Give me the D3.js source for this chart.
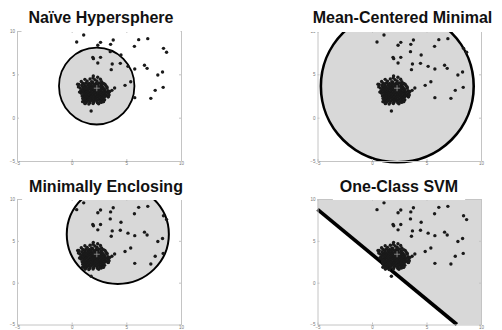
<!DOCTYPE html>
<html>
<head>
<meta charset="utf-8">
<script src="https://cdn.jsdelivr.net/npm/d3@7"></script>
<style>
  body { margin: 0; background: #fff; }
  svg { display: block; }
  .tick text { font-family: "Liberation Sans", Arial, sans-serif; }
  .title { font-family: "Liberation Sans", Arial, sans-serif; font-weight: bold; font-size: 16px; }
</style>
</head>
<body>
<div id="chart"></div>
<script>
// Panel titles
const titles = ['Naïve Hypersphere', 'Mean-Centered Minimal', 'Minimally Enclosing', 'One-Class SVM'];
const tickValues = [-5, 0, 5, 10];
const axisDomain = [-5, 10];

// Scattered points away from the main cluster
const outliers = [
  [0.46, 8.73], [1.10, 9.54], [2.39, 8.35], [2.64, 8.69], [3.56, 8.46], [3.80, 8.96],
  [3.53, 7.62], [1.93, 6.96], [1.99, 6.81], [2.64, 6.96], [2.39, 6.31], [3.71, 6.19],
  [3.62, 5.54], [4.51, 7.23], [4.45, 6.27], [5.15, 5.92], [5.74, 8.23], [6.13, 9.00],
  [6.96, 9.12], [5.77, 5.62], [6.66, 6.04], [6.90, 5.69], [8.40, 8.00], [8.68, 7.54],
  [8.31, 5.27], [7.88, 4.92], [4.88, 3.73], [5.40, 4.15], [3.93, 3.42], [3.68, 3.15],
  [5.77, 2.31], [7.24, 2.23], [7.64, 3.15], [8.37, 3.50], [1.78, 0.77]
];

const clusterPoints = [
  [1.21, 4.42], [1.68, 4.47], [2.12, 4.38], [2.63, 4.44], [1.95, 4.58],
  [0.88, 4.18], [1.42, 4.22], [1.83, 4.16], [2.31, 4.24], [2.74, 4.15],
  [1.02, 3.98], [1.33, 4.03], [1.61, 3.96], [1.92, 4.05], [2.24, 3.97], [2.52, 4.02], [2.91, 3.95],
  [0.66, 3.84], [1.16, 3.88], [1.47, 3.81], [1.77, 3.87], [2.06, 3.83], [2.37, 3.89], [2.68, 3.82], [3.04, 3.86],
  [0.92, 3.71], [1.22, 3.66], [1.51, 3.73], [1.81, 3.68], [2.12, 3.72], [2.41, 3.67], [2.72, 3.71], [3.12, 3.68],
  [1.03, 3.56], [1.31, 3.52], [1.62, 3.58], [1.91, 3.53], [2.21, 3.57], [2.52, 3.51], [2.81, 3.56], [3.22, 3.53],
  [0.78, 3.41], [1.12, 3.38], [1.42, 3.43], [1.71, 3.39], [2.02, 3.42], [2.31, 3.37], [2.62, 3.41], [2.92, 3.38], [3.24, 3.42],
  [0.98, 3.26], [1.27, 3.22], [1.56, 3.27], [1.86, 3.23], [2.16, 3.28], [2.46, 3.24], [2.76, 3.27], [3.03, 3.22],
  [0.83, 3.11], [1.16, 3.08], [1.46, 3.12], [1.76, 3.07], [2.06, 3.13], [2.36, 3.09], [2.66, 3.12], [2.96, 3.08], [3.31, 3.11],
  [1.06, 2.96], [1.36, 2.93], [1.66, 2.97], [1.96, 2.92], [2.26, 2.98], [2.56, 2.94], [2.86, 2.97], [3.12, 2.93],
  [0.88, 2.81], [1.21, 2.78], [1.51, 2.83], [1.81, 2.79], [2.11, 2.82], [2.41, 2.77], [2.71, 2.81], [3.01, 2.78], [3.36, 2.82],
  [1.11, 2.66], [1.41, 2.63], [1.71, 2.67], [2.01, 2.62], [2.31, 2.68], [2.61, 2.64], [2.91, 2.67], [3.17, 2.62],
  [0.96, 2.51], [1.26, 2.48], [1.56, 2.53], [1.86, 2.49], [2.16, 2.52], [2.46, 2.47], [2.76, 2.51], [3.06, 2.48],
  [1.16, 2.36], [1.46, 2.33], [1.76, 2.37], [2.06, 2.32], [2.36, 2.38], [2.66, 2.34], [2.96, 2.37], [3.33, 2.41],
  [1.01, 2.21], [1.31, 2.18], [1.61, 2.23], [1.91, 2.19], [2.21, 2.22], [2.51, 2.17], [2.81, 2.21],
  [1.22, 2.06], [1.52, 2.03], [1.82, 2.07], [2.12, 2.02], [2.42, 2.08], [2.72, 2.04], [3.01, 2.07],
  [1.12, 1.91], [1.41, 1.88], [1.72, 1.93], [2.02, 1.89], [2.32, 1.92], [2.62, 1.87], [2.91, 1.86],
  [1.31, 1.76], [1.66, 1.73], [2.01, 1.77], [2.36, 1.72], [2.71, 1.76],
  [1.23, 1.62], [1.57, 1.58], [1.96, 1.63], [2.47, 1.61],
  [0.55, 3.85], [1.98, 4.81], [2.38, 4.66], [2.90, 1.85], [3.35, 2.42], [1.00, 1.85],
  [1.22, 1.66], [0.62, 3.55], [3.48, 3.02], [0.72, 2.95], [3.42, 2.62]
];

const dataMean = [2.3, 3.4];

// Decision boundaries (data units; radii differ per axis as drawn)
const naiveSphere = { cx: 2.29, cy: 3.65, rx: 3.45, ry: 4.44 };
const meanCenteredSphere = { cx: 2.32, cy: 3.62, rx: 7.01, ry: 8.77 };
const minimalSphere = { cx: 4.22, cy: 5.78, rx: 4.67, ry: 5.93 };
const svmBoundary = [[-5, 8.76], [7.79, -5]];

const width = 502, height = 330;
const fillGray = '#d8d8d8';

const panels = [
  { title: titles[0], sphere: naiveSphere, left: 17, top: 31, w: 164, h: 130, titleX: 101, titleY: 22.5, stroke: 1.8 },
  { title: titles[1], sphere: meanCenteredSphere, left: 317.5, top: 31, w: 163.5, h: 130, titleX: 402.5, titleY: 22.5, stroke: 2.6 },
  { title: titles[2], sphere: minimalSphere, left: 17, top: 199, w: 164, h: 125.5, titleX: 106, titleY: 191.5, stroke: 2 },
  { title: titles[3], boundary: svmBoundary, left: 317.5, top: 199, w: 163.5, h: 125.5, titleX: 399, titleY: 191.5, stroke: 3.6 }
];

const svg = d3.select('#chart')
  .append('svg')
  .attr('width', width)
  .attr('height', height);

panels.forEach(p => {
  const x = d3.scaleLinear().domain(axisDomain).range([p.left, p.left + p.w]);
  const y = d3.scaleLinear().domain(axisDomain).range([p.top + p.h, p.top]);
  const g = svg.append('g');

  // Enclosing region
  if (p.sphere) {
    g.append('ellipse')
      .attr('cx', x(p.sphere.cx))
      .attr('cy', y(p.sphere.cy))
      .attr('rx', x(p.sphere.rx) - x(0))
      .attr('ry', y(0) - y(p.sphere.ry))
      .attr('fill', fillGray)
      .attr('stroke', '#000')
      .attr('stroke-width', p.stroke);
  } else {
    const [a, b] = p.boundary;
    const region = [a, [axisDomain[0], axisDomain[1]], [axisDomain[1], axisDomain[1]], [axisDomain[1], axisDomain[0]], b];
    const line = d3.line().x(d => x(d[0])).y(d => y(d[1]));
    g.append('path')
      .attr('d', line(region) + 'Z')
      .attr('fill', fillGray);
    g.append('path')
      .attr('d', line([a, b]))
      .attr('stroke', '#000')
      .attr('stroke-width', p.stroke)
      .attr('fill', 'none');
  }

  // Axes box with inward ticks
  const styleAxis = sel => {
    sel.select('.domain').attr('stroke', '#c4c4c4');
    sel.selectAll('.tick line').attr('stroke', '#c4c4c4');
    sel.selectAll('.tick text').attr('fill', '#777').style('font-size', '4.5px');
  };
  g.append('g')
    .attr('transform', `translate(0,${p.top + p.h})`)
    .call(d3.axisBottom(x).tickValues(tickValues).tickSize(-2).tickSizeOuter(0).tickPadding(1))
    .call(styleAxis);
  g.append('g')
    .attr('transform', `translate(${p.left},0)`)
    .call(d3.axisLeft(y).tickValues(tickValues).tickSize(-2).tickSizeOuter(0).tickPadding(2))
    .call(styleAxis);
  g.append('g')
    .attr('transform', `translate(0,${p.top})`)
    .call(d3.axisTop(x).tickValues(tickValues).tickSize(-2).tickSizeOuter(0).tickFormat(''))
    .call(styleAxis);
  g.append('g')
    .attr('transform', `translate(${p.left + p.w},0)`)
    .call(d3.axisRight(y).tickValues(tickValues).tickSize(-2).tickSizeOuter(0).tickFormat(''))
    .call(styleAxis);

  // Data points
  g.append('g')
    .selectAll('circle')
    .data(clusterPoints.concat(outliers))
    .join('circle')
    .attr('cx', d => x(d[0]))
    .attr('cy', d => y(d[1]))
    .attr('r', 1.7)
    .attr('fill', '#1a1a1a');

  // Mean marker
  const mx = x(dataMean[0]), my = y(dataMean[1]);
  g.append('path')
    .attr('d', `M${mx - 3},${my}H${mx + 3}M${mx},${my - 3}V${my + 3}`)
    .attr('stroke', '#9a9a9a')
    .attr('stroke-width', 0.8);

  // Title with white backing box
  const titleBox = g.append('rect').attr('fill', '#fff');
  const t = g.append('text')
    .attr('class', 'title')
    .attr('x', p.titleX)
    .attr('y', p.titleY)
    .attr('text-anchor', 'middle')
    .attr('fill', '#111')
    .text(p.title);
  const bb = t.node().getBBox();
  titleBox
    .attr('x', bb.x - 7)
    .attr('y', p.top - 30)
    .attr('width', bb.width + 14)
    .attr('height', 31);
});
</script>
</body>
</html>
